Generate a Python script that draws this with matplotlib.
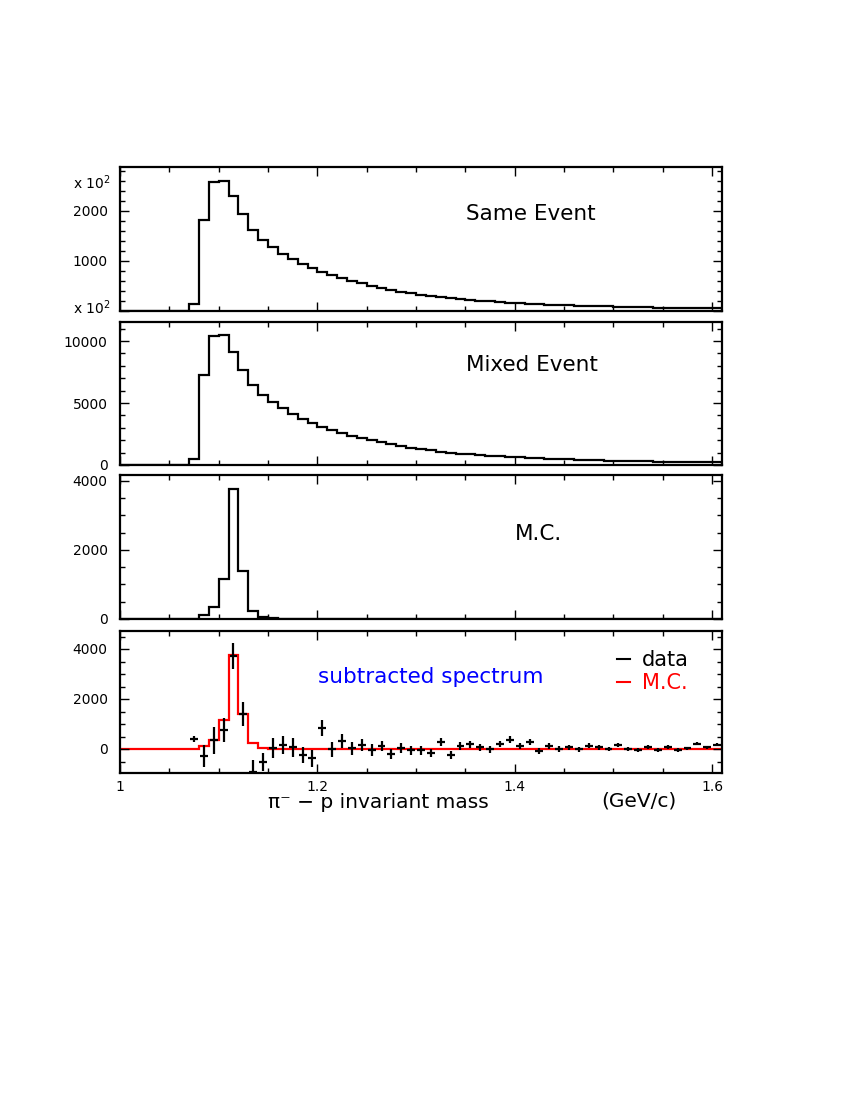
import numpy as np
import matplotlib
matplotlib.use('Agg')
import matplotlib.pyplot as plt
from matplotlib.lines import Line2D
from matplotlib.ticker import MultipleLocator

# ---------------- data ----------------
bin_edges = np.round(np.linspace(1.0, 1.61, 62), 3)   # 61 bins of 0.01 GeV/c

same_event = [0, 0, 0, 0, 0, 0, 0,
              140, 1820, 2590, 2600, 2310, 1940, 1630, 1430, 1275, 1150,
              1040, 945, 860, 785, 720, 660, 605, 555, 505, 465,
              425, 390, 360, 330, 305, 280, 260, 240, 222, 206,
              192, 180, 168, 157, 147, 138, 130, 122, 115, 108,
              102, 96, 91, 86, 82, 78, 74, 70, 67, 64,
              61, 58, 56, 54]

mixed_event = [0, 0, 0, 0, 0, 0, 0,
               490, 7240, 10400, 10460, 9110, 7700, 6490, 5680, 5070, 4570,
               4140, 3750, 3370, 3070, 2820, 2580, 2360, 2170, 1980, 1820,
               1660, 1530, 1400, 1290, 1185, 1085, 1000, 920, 860, 790,
               735, 690, 650, 612, 576, 542, 510, 480, 452, 426,
               402, 380, 360, 341, 323, 306, 290, 275, 261, 248,
               236, 224, 213, 203]

mc = [0, 0, 0, 0, 0, 0, 0, 0,
      117, 341, 1171, 3756, 1385, 244, 49, 20,
      0, 0, 0, 0, 0, 0, 0, 0, 0, 0, 0, 0, 0, 0, 0,
      0, 0, 0, 0, 0, 0, 0, 0, 0, 0, 0, 0, 0, 0, 0,
      0, 0, 0, 0, 0, 0, 0, 0, 0, 0, 0, 0, 0, 0, 0]

data_x = np.round(np.linspace(1.075, 1.605, 54), 3)
data_y = [400, -270, 350, 760, 3720, 1400, -900, -510, 30, 160,
          70, -240, -370, 830, 0, 320, 40, 150, -30, 120,
          -210, 50, -50, -50, -150, 280, -230, 130, 190, 80,
          -10, 200, 370, 110, 280, -70, 120, 0, 70, -10,
          130, 70, -10, 170, 0, -30, 90, -40, 80, -50,
          30, 210, 70, 170]
data_err = [130, 430, 550, 480, 510, 480, 470, 370, 400, 370,
            370, 330, 350, 320, 300, 280, 260, 245, 230, 215,
            200, 190, 180, 170, 165, 160, 155, 150, 145, 140,
            138, 135, 133, 128, 124, 120, 115, 110, 105, 100,
            96, 92, 88, 85, 82, 80, 78, 76, 74, 72,
            70, 68, 66, 64]
data_xerr = 0.004

x_ticks = [1.0, 1.2, 1.4, 1.6]
x_ticklabels = ['1', '1.2', '1.4', '1.6']

# ---------------- figure ----------------
W, H = 850, 1100
fig = plt.figure(figsize=(W / 100, H / 100), dpi=100)
plt.rcParams['font.family'] = ['DejaVu Sans']


def rect(top, bottom, left=120, right=722):
    return [left / W, 1 - bottom / H, (right - left) / W, (bottom - top) / H]


def fx(x):
    return x / W


def fy(y):
    return 1 - y / H


def style(ax, ylim, yticks, ylabels, yminor):
    ax.set_xlim(1.0, 1.61)
    ax.set_ylim(*ylim)
    ax.set_xticks(x_ticks)
    ax.xaxis.set_minor_locator(MultipleLocator(0.05))
    ax.set_yticks(yticks, ylabels)
    ax.yaxis.set_minor_locator(MultipleLocator(yminor))
    ax.tick_params(which='both', direction='in', top=True, right=True,
                   width=1.0, colors='black')
    ax.tick_params(which='major', length=6.5)
    ax.tick_params(which='minor', length=3.6)
    ax.tick_params(axis='y', labelsize=10, pad=9)
    ax.tick_params(axis='x', labelbottom=False)
    for s in ax.spines.values():
        s.set_linewidth(1.6)


ax1 = fig.add_axes(rect(167, 311))
ax2 = fig.add_axes(rect(322, 465))
ax3 = fig.add_axes(rect(475, 619))
ax4 = fig.add_axes(rect(631, 773))

ax1.stairs(same_event, bin_edges, color='black', lw=1.6)
style(ax1, (0, 2880), [0, 1000, 2000], ['', '1000', '2000'], 200)

ax2.stairs(mixed_event, bin_edges, color='black', lw=1.6)
style(ax2, (0, 11540), [0, 5000, 10000], ['0', '5000', '10000'], 1000)

ax3.stairs(mc, bin_edges, color='black', lw=1.6)
style(ax3, (0, 4170), [0, 2000, 4000], ['0', '2000', '4000'], 500)

ax4.stairs(mc, bin_edges, color='red', lw=1.6, baseline=None)
ax4.errorbar(data_x, data_y, yerr=data_err, xerr=data_xerr, fmt='none',
             ecolor='black', elinewidth=1.6, capsize=0)
style(ax4, (-960, 4720), [0, 2000, 4000], ['0', '2000', '4000'], 500)
ax4.set_xticks(x_ticks, x_ticklabels)
ax4.tick_params(axis='x', labelbottom=True, labelsize=10, pad=5)

# multipliers
fig.text(fx(111), fy(183), r'x 10$^2$', ha='right', va='center', fontsize=10)
fig.text(fx(111), fy(308), r'x 10$^2$', ha='right', va='center', fontsize=10)

# panel titles
fig.text(fx(466), fy(214), 'Same Event', ha='left', va='center', fontsize=15.5)
fig.text(fx(466), fy(365), 'Mixed Event', ha='left', va='center', fontsize=15.5)
fig.text(fx(515), fy(534), 'M.C.', ha='left', va='center', fontsize=15.5)
fig.text(fx(318), fy(677), 'subtracted spectrum', ha='left', va='center',
         fontsize=15.5, color='#0000ff')

# legend
fig.add_artist(Line2D([fx(617), fx(630)], [fy(659), fy(659)], color='black', lw=1.5))
fig.text(fx(642), fy(660), 'data', ha='left', va='center', fontsize=15, color='black')
fig.add_artist(Line2D([fx(617), fx(630)], [fy(682), fy(682)], color='red', lw=1.5))
fig.text(fx(642), fy(683), 'M.C.', ha='left', va='center', fontsize=15, color='red')

# axis title
fig.text(fx(268), fy(803), 'π⁻ − p invariant mass', ha='left', va='center', fontsize=14.5)
fig.text(fx(601), fy(801), '(GeV/c)', ha='left', va='center', fontsize=14.5)

fig.savefig('out.png', dpi=100)
